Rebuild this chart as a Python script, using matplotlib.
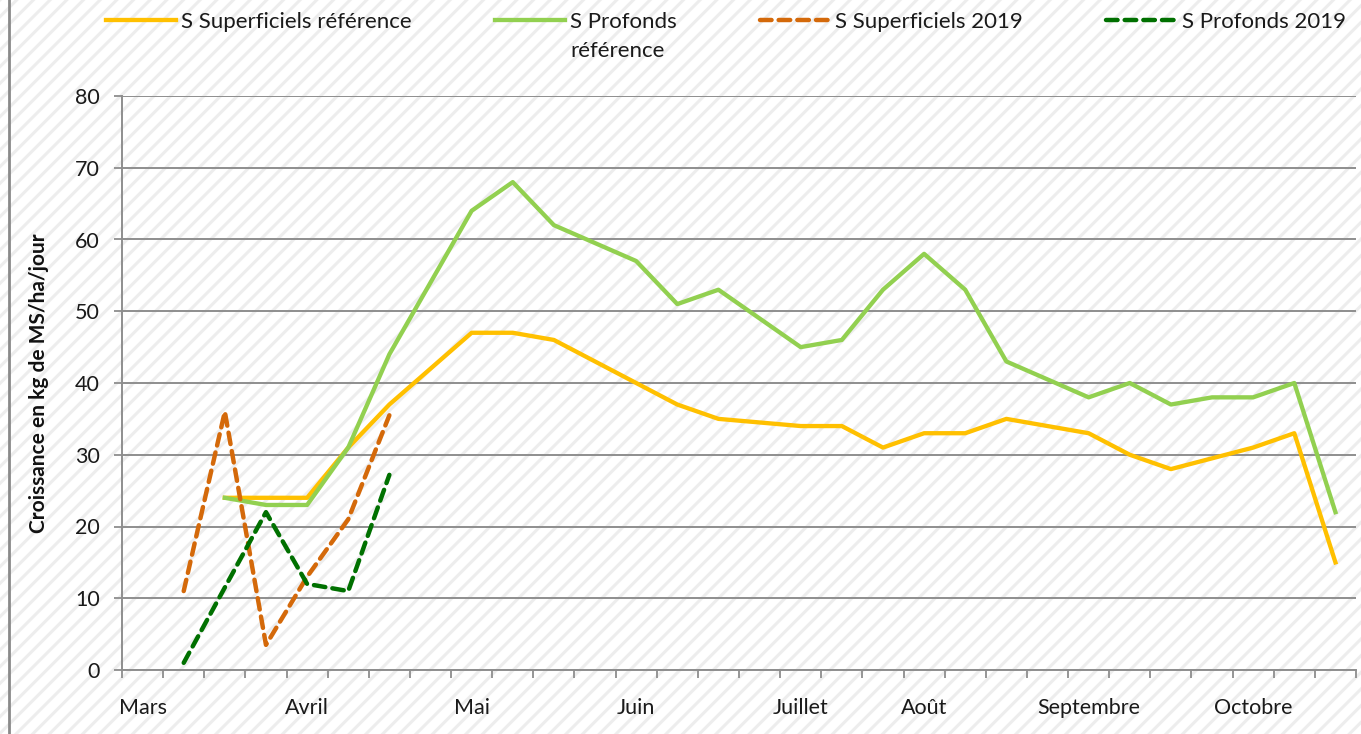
import matplotlib
matplotlib.use("Agg")
import matplotlib.pyplot as plt
import numpy as np
from matplotlib.lines import Line2D

nan = np.nan

# Categories (weekly), labels only on some
tick_labels = ["Mars", "", "", "", "Avril", "", "", "", "Mai", "", "", "", "Juin", "", "", "",
               "Juillet", "", "", "Août", "", "", "", "Septembre", "", "", "", "Octobre", "", ""]

sup_ref = [nan, nan, 24, 24, 24, 31, 37, 42, 47, 47, 46, 43, 40, 37, 35, 34.5, 34, 34, 31, 33,
           33, 35, 34, 33, 30, 28, 29.5, 31, 33, 15]
prof_ref = [nan, nan, 24, 23, 23, 31, 44, 54, 64, 68, 62, 59.5, 57, 51, 53, 49, 45, 46, 53, 58,
            53, 43, 40.5, 38, 40, 37, 38, 38, 40, 22]
sup_2019 = [nan, 11, 36, 3.5, 13, 21, 35.5] + [nan] * 23
prof_2019 = [nan, 1, 11.5, 22, 12, 11, 27.2] + [nan] * 23

labels = ["S Superficiels référence", "S Profonds", "S Superficiels 2019", "S Profonds 2019"]
label2_second_line = "référence"
colors = ["#FFC000", "#92D050", "#D4690A", "#007000"]

plt.rcParams['font.family'] = ['Lato', 'DejaVu Sans']
plt.rcParams['hatch.linewidth'] = 2.2

W, H = 1361, 734
fig = plt.figure(figsize=(W / 100, H / 100), dpi=100)
fig.patch.set_facecolor('white')
fig.patch.set_edgecolor('#ededed')
fig.patch.set_linewidth(0)
fig.patch.set_hatch('//')

ax = fig.add_axes([122 / W, 1 - 670 / H, (1356 - 122) / W, (670 - 96) / H])
ax.patch.set_visible(False)

x = np.arange(len(tick_labels))
series = [sup_ref, prof_ref, sup_2019, prof_2019]
handles = []
for i, (s, c) in enumerate(zip(series, colors)):
    if i < 2:
        ln, = ax.plot(x, s, color=c, lw=3.1, solid_joinstyle='round', zorder=3)
    else:
        ln, = ax.plot(x, s, color=c, lw=3.2, dashes=(2.6, 1.6), dash_capstyle='round', zorder=4)
    handles.append(ln)

ax.set_xlim(-0.5, len(tick_labels) - 0.5)
ax.set_ylim(0, 80)
ax.set_yticks(np.arange(0, 81, 10))
ax.grid(axis='y', color='#8e8e8e', lw=1.4, zorder=1)
ax.set_axisbelow(True)

lab_idx = [i for i, t in enumerate(tick_labels) if t]
ax.set_xticks(lab_idx)
ax.set_xticklabels([tick_labels[i] for i in lab_idx])
ax.set_xticks(np.arange(-0.5, len(tick_labels)), minor=True)
ax.tick_params(axis='x', which='major', length=0, pad=20, labelsize=15.5, colors='#1a1a1a')
ax.tick_params(axis='x', which='minor', length=6, width=1.3, color='#8e8e8e', direction='out')
ax.tick_params(axis='y', length=6, width=1.3, color='#8e8e8e', pad=10, labelsize=15.5, labelcolor='#1a1a1a')

for sp in ['top', 'right']:
    ax.spines[sp].set_visible(False)
for sp in ['left', 'bottom']:
    ax.spines[sp].set_color('#8e8e8e')
    ax.spines[sp].set_linewidth(1.4)

ax.set_ylabel("Croissance en kg de MS/ha/jour", fontsize=15, fontweight='bold', labelpad=19, color='#111111')

leg = fig.legend(handles, labels, loc='upper left', bbox_to_anchor=(106 / W, 1 - 12 / H),
                 ncol=4, frameon=False, fontsize=16, handlelength=3.15, handletextpad=0.23,
                 columnspacing=3.75, borderpad=0, borderaxespad=0)
for t in leg.get_texts():
    t.set_color('#1a1a1a')

# second line of the "S Profonds référence" legend label
fig.canvas.draw()
t2 = leg.get_texts()[1]
bb = t2.get_window_extent()
fig.text(bb.x0 / W, (bb.y0 - 9) / H, label2_second_line, fontsize=16, color='#1a1a1a',
         ha='left', va='top')

fig.add_artist(Line2D([9 / W, 9 / W], [0, 1], transform=fig.transFigure, color='#8a8a8a', lw=2))

fig.savefig("out.png", dpi=100)
